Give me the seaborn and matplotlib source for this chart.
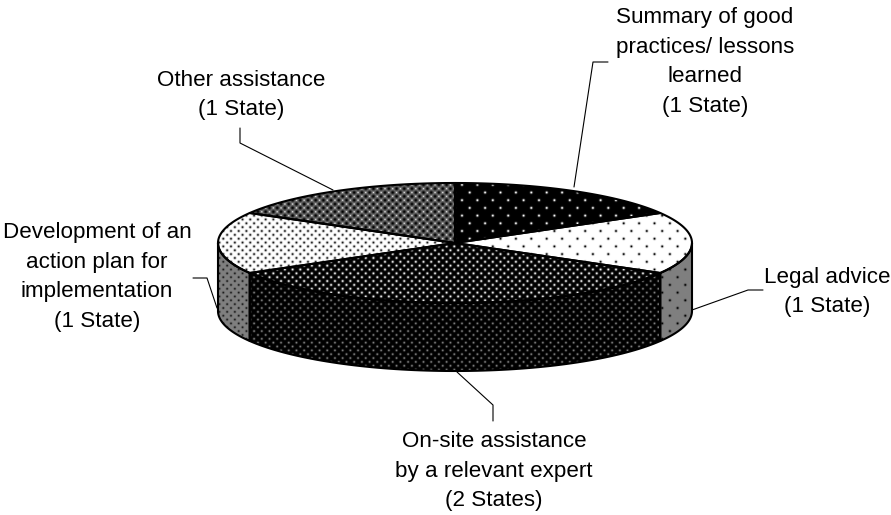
import numpy as np
import seaborn as sns
import matplotlib.pyplot as plt
from matplotlib.patches import Polygon

# number of states per kind of assistance, clockwise from 12 o'clock
labels = [
    "Summary of good\npractices/ lessons\nlearned\n(1 State)",
    "Legal advice\n(1 State)",
    "On-site assistance\nby a relevant expert\n(2 States)",
    "Development of an\naction plan for\nimplementation\n(1 State)",
    "Other assistance\n(1 State)",
]
states = [1, 1, 2, 1, 1]

# pie geometry in pixels
CX, CY = 455, 243
RX, RY = 237, 60
DEPTH = 68
W, H = 891, 515


def dots(bg, fg, dx, dy, r=1.1, phase=(0, 0), base=None):
    # staggered dot pattern as a greyscale image
    yy, xx = np.mgrid[0:H, 0:W]
    xx = xx + 0.5 - phase[0]
    yy = yy + 0.5 - phase[1]
    d1 = np.hypot((xx + dx / 2) % dx - dx / 2, (yy + dy) % (2 * dy) - dy)
    d2 = np.hypot(xx % dx - dx / 2, yy % (2 * dy) - dy)
    d = np.minimum(d1, d2)
    img = np.full((H, W), float(bg)) if base is None else base
    return img + (fg - img) * np.exp(-(d / r) ** 2)


def rim(a0, a1):
    t = np.radians(np.linspace(a0, a1, 80))
    return np.column_stack([CX + RX * np.sin(t), CY - RY * np.cos(t)])


def fill(ax, pts, img):
    patch = Polygon(pts, closed=True, facecolor="none", edgecolor="none")
    ax.add_patch(patch)
    im = ax.imshow(img, cmap="gray", vmin=0, vmax=1, extent=(0, W, H, 0),
                   interpolation="nearest", zorder=1, aspect="auto")
    im.set_clip_path(patch)
    ax.add_patch(Polygon(pts, closed=True, facecolor="none", edgecolor="black",
                         lw=1.5, zorder=3, joinstyle="round"))


sns.set_theme(style="white")
plt.rcParams["font.family"] = ["Liberation Sans", "DejaVu Sans"]

fig = plt.figure(figsize=(W / 100, H / 100), dpi=100)
ax = fig.add_axes([0, 0, 1, 1])

other = dots(0.45, 0.0, 7.7, 3.85, r=1.9)
other = dots(0, 0.85, 7.7, 3.85, r=0.8, phase=(3.85, 0), base=other)

top_tex = [
    dots(0, 1, 15.4, 7.7, r=1.2),
    dots(1, 0, 15.4, 7.7, r=1.2),
    dots(0, 0.95, 7.7, 3.85, r=1.2),
    dots(1, 0.1, 7.7, 3.85, r=1.2),
    other,
]
side_tex = [
    None,
    dots(0.5, 0, 15.4, 7.7, r=1.2),
    dots(0, 0.5, 7.7, 3.85, r=1.1),
    dots(0.5, 0.1, 7.7, 3.85, r=1.1),
    None,
]

edges = np.cumsum([0] + states) / sum(states) * 360

# side walls first: only the part of the rim facing the viewer
for i in range(len(states)):
    a0 = max(edges[i], 90)
    a1 = min(edges[i + 1], 270)
    if side_tex[i] is None or a1 <= a0:
        continue
    top = rim(a0, a1)
    bottom = top[::-1] + [0, DEPTH]
    fill(ax, np.vstack([top, bottom]), side_tex[i])

for i in range(len(states)):
    pts = np.vstack([[CX, CY], rim(edges[i], edges[i + 1])])
    fill(ax, pts, top_tex[i])

# leader lines
leaders = [
    ([574, 593, 608], [187, 62, 62]),
    ([692, 748, 763], [310, 290, 290]),
    ([457, 493, 493], [372, 405, 421]),
    ([217, 207, 193], [308, 278, 278]),
    ([333, 240, 240], [190, 143, 128]),
]
for xs, ys in leaders:
    ax.plot(xs, ys, color="black", lw=0.8, zorder=2)

# label anchors
label_pos = [(705, 62), (827, 292), (494, 471), (97, 277), (241, 95)]
for text, (x, y) in zip(labels, label_pos):
    ax.text(x, y, text, ha="center", va="center", fontsize=16.1, color="black",
            linespacing=1.55, zorder=4)

ax.set_xlim(0, W)
ax.set_ylim(H, 0)
ax.axis("off")

fig.savefig("out.png", dpi=100)
